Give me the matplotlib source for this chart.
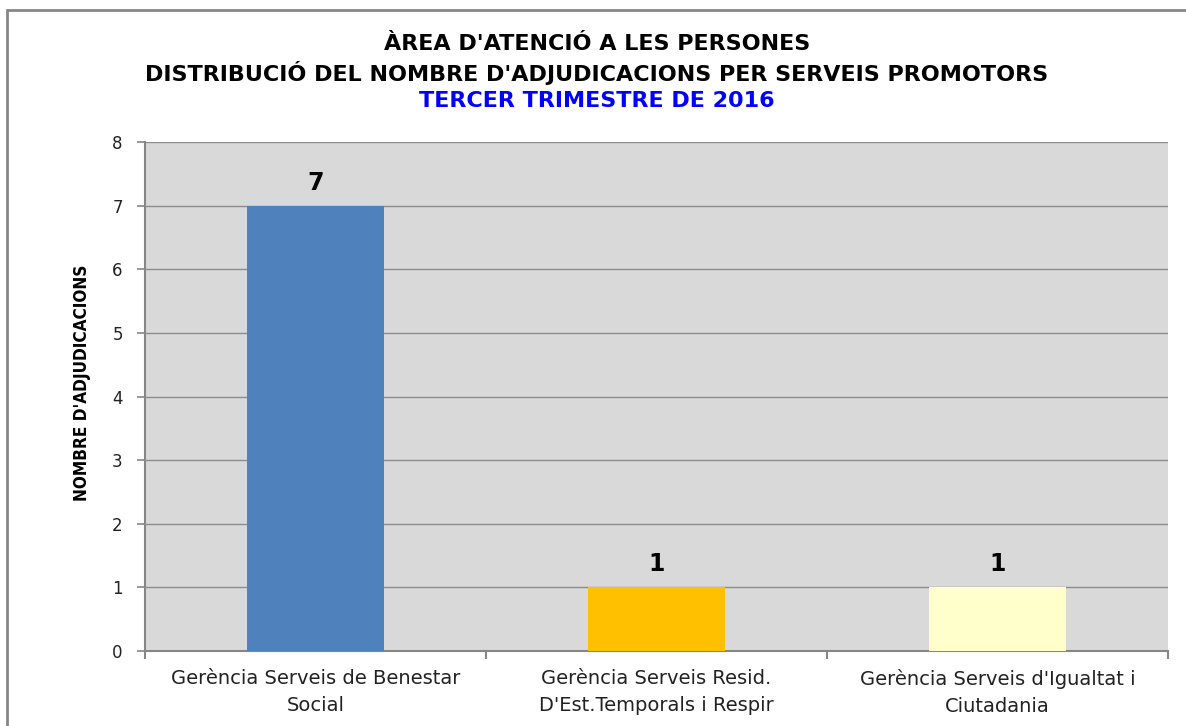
import matplotlib
matplotlib.use("Agg")
import matplotlib.pyplot as plt
from matplotlib import font_manager
from matplotlib.patches import Rectangle

categories = ["Gerència Serveis de Benestar\nSocial",
              "Gerència Serveis Resid.\nD'Est.Temporals i Respir",
              "Gerència Serveis d'Igualtat i\nCiutadania"]
values = [7, 1, 1]
bar_colors = ["#4F81BD", "#FFC000", "#FFFFCC"]
title_lines = ["ÀREA D'ATENCIÓ A LES PERSONES",
               "DISTRIBUCIÓ DEL NOMBRE D'ADJUDICACIONS PER SERVEIS PROMOTORS",
               "TERCER TRIMESTRE DE 2016"]
y_label = "NOMBRE D'ADJUDICACIONS"
y_ticks = list(range(0, 9))

has_condensed = any(f.name == "DejaVu Sans" and f.stretch == "condensed"
                    for f in font_manager.fontManager.ttflist)

fig = plt.figure(figsize=(11.86, 7.26), dpi=100)
fig.patch.set_facecolor("white")
ax = fig.add_axes([145/1186, 75/726, 1023/1186, 509/726])
ax.set_facecolor("#D9D9D9")

x = list(range(len(categories)))
bars = ax.bar(x, values, width=0.4, color=bar_colors, zorder=3)
ax.set_xlim(-0.5, len(categories) - 0.5)
ax.set_ylim(0, 8)
ax.set_yticks(y_ticks)
ax.set_yticklabels([str(t) for t in y_ticks], fontsize=12, color="#222222")
ax.yaxis.grid(True, color="#8C8C8C", linewidth=1.0, zorder=0)
ax.set_axisbelow(True)

ax.set_xticks(x)
ax.set_xticklabels(categories, fontsize=14, linespacing=1.5, color="#222222")
ax.tick_params(axis="x", which="major", length=0, pad=13)
ax.set_xticks([i - 0.5 for i in range(len(categories) + 1)], minor=True)
ax.tick_params(axis="x", which="minor", length=6, width=1.5, color="#868686", direction="out")
ax.tick_params(axis="y", which="major", length=6, width=1.2, color="#868686", direction="out", pad=10)

for side in ["top", "right"]:
    ax.spines[side].set_visible(False)
for side in ["left", "bottom"]:
    ax.spines[side].set_color("#868686")
    ax.spines[side].set_linewidth(1.5)

for b, v in zip(bars, values):
    ax.annotate(str(v), (b.get_x() + b.get_width() / 2, v), xytext=(0, 8),
                textcoords="offset points", ha="center", va="bottom",
                fontsize=17, fontweight="bold", color="black")

if has_condensed:
    ax.set_ylabel(y_label, fontsize=12.3, fontweight="bold", fontstretch="condensed", labelpad=15)
else:
    ax.set_ylabel(y_label, fontsize=10.5, fontweight="bold", labelpad=16)
ax.yaxis.label.set_y(0.527)

cx = 597 / 1186
fig.text(cx, (726 - 44) / 726, title_lines[0], ha="center", va="center",
         fontsize=16, fontweight="bold", color="black")
fig.text(cx, (726 - 73) / 726, title_lines[1], ha="center", va="center",
         fontsize=16, fontweight="bold", color="black")
fig.text(cx, (726 - 101) / 726, title_lines[2], ha="center", va="center",
         fontsize=16, fontweight="bold", color="#0000FF")

fig.patches.append(Rectangle((7/1186, -0.05), 1.1, (716/726) + 0.05,
                             transform=fig.transFigure, fill=False,
                             edgecolor="#868686", linewidth=2))

fig.savefig("out.png", dpi=100)
